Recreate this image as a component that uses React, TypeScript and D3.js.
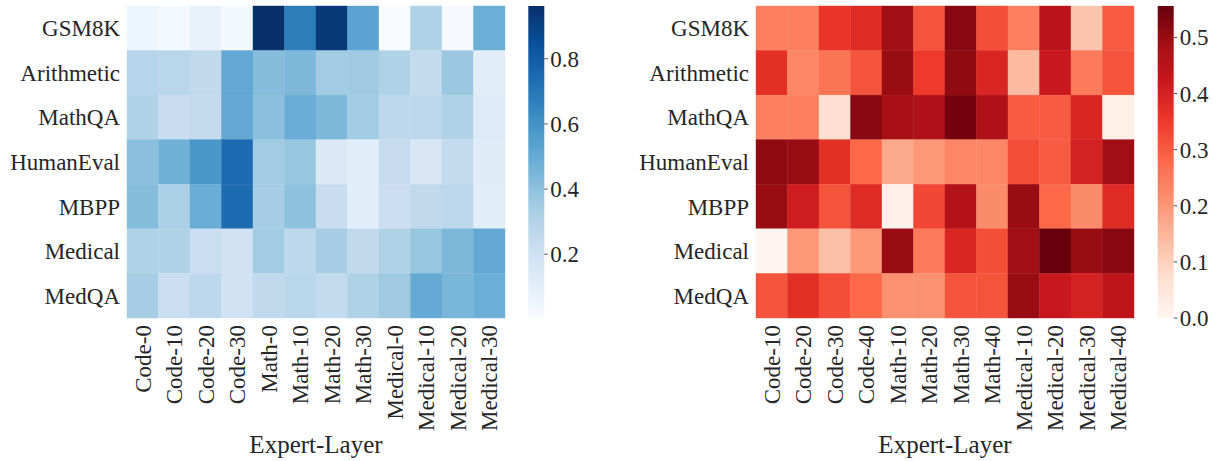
import * as d3 from "d3";

const rows = ["GSM8K", "Arithmetic", "MathQA", "HumanEval", "MBPP", "Medical", "MedQA"];
const leftCols = ["Code-0", "Code-10", "Code-20", "Code-30", "Math-0", "Math-10", "Math-20", "Math-30", "Medical-0", "Medical-10", "Medical-20", "Medical-30"];
const rightCols = ["Code-10", "Code-20", "Code-30", "Code-40", "Math-10", "Math-20", "Math-30", "Math-40", "Medical-10", "Medical-20", "Medical-30", "Medical-40"];

const leftValues = [
  [0.05, 0.02, 0.07, 0.03, 0.962, 0.68, 0.93, 0.53, 0.004, 0.31, 0.01, 0.48],
  [0.29, 0.28, 0.26, 0.51, 0.42, 0.44, 0.35, 0.36, 0.31, 0.25, 0.37, 0.11],
  [0.31, 0.23, 0.25, 0.51, 0.41, 0.49, 0.44, 0.35, 0.27, 0.27, 0.31, 0.13],
  [0.41, 0.47, 0.58, 0.74, 0.35, 0.38, 0.14, 0.11, 0.24, 0.15, 0.25, 0.12],
  [0.42, 0.32, 0.49, 0.74, 0.34, 0.40, 0.23, 0.11, 0.22, 0.26, 0.27, 0.11],
  [0.31, 0.31, 0.22, 0.20, 0.35, 0.27, 0.34, 0.26, 0.31, 0.38, 0.44, 0.51],
  [0.34, 0.22, 0.27, 0.19, 0.26, 0.28, 0.25, 0.31, 0.36, 0.50, 0.45, 0.48],
];

const rightValues = [
  [0.24, 0.24, 0.36, 0.38, 0.49, 0.31, 0.52, 0.32, 0.24, 0.45, 0.12, 0.30],
  [0.37, 0.23, 0.26, 0.31, 0.50, 0.35, 0.51, 0.39, 0.14, 0.42, 0.25, 0.31],
  [0.24, 0.24, 0.07, 0.52, 0.48, 0.47, 0.54, 0.47, 0.30, 0.30, 0.39, 0.02],
  [0.51, 0.50, 0.37, 0.28, 0.17, 0.20, 0.23, 0.23, 0.32, 0.30, 0.40, 0.49],
  [0.50, 0.41, 0.31, 0.38, 0.01, 0.33, 0.46, 0.22, 0.50, 0.28, 0.22, 0.38],
  [0.0, 0.20, 0.13, 0.20, 0.50, 0.25, 0.39, 0.32, 0.49, 0.556, 0.50, 0.52],
  [0.31, 0.37, 0.32, 0.28, 0.21, 0.21, 0.31, 0.31, 0.50, 0.42, 0.40, 0.44],
];

const leftTicks = [0.2, 0.4, 0.6, 0.8];
const rightTicks = [0, 0.1, 0.2, 0.3, 0.4, 0.5];

const blues = ["#f7fbff", "#deebf7", "#c6dbef", "#9ecae1", "#6baed6", "#4292c6", "#2171b5", "#08519c", "#08306b"];
const reds = ["#fff5f0", "#fee0d2", "#fcbba1", "#fc9272", "#fb6a4a", "#ef3b2c", "#cb181d", "#a50f15", "#67000d"];

const FONT = "'Liberation Serif', 'Times New Roman', serif";
const TEXT = "#262626";

type Props = {
  id: string;
  x0: number;
  x1: number;
  cbX: number;
  cols: string[];
  values: number[][];
  palette: string[];
  ticks: number[];
};

const Heatmap = ({ id, x0, x1, cbX, cols, values, palette, ticks }: Props) => {
  const y0 = 6, y1 = 318, cbW = 16;
  const x = d3.scaleBand<string>().domain(cols).range([x0, x1]);
  const y = d3.scaleBand<string>().domain(rows).range([y0, y1]);
  const [vmin, vmax] = d3.extent(values.flat()) as [number, number];
  const cmap = d3.scaleLinear<string>()
    .domain(palette.map((_, i) => vmin + (vmax - vmin) * i / (palette.length - 1)))
    .range(palette)
    .interpolate(d3.interpolateRgb);
  const cy = d3.scaleLinear().domain([vmin, vmax]).range([y1, y0]);
  const stops = d3.range(0, 1.0001, 0.02);

  return (
    <g>
      <defs>
        <linearGradient id={id} x1="0" y1="1" x2="0" y2="0">
          {stops.map(s => (
            <stop key={s} offset={s} stopColor={cmap(vmin + s * (vmax - vmin))} />
          ))}
        </linearGradient>
      </defs>
      {values.map((r, i) =>
        r.map((v, j) => (
          <rect
            key={`${i}-${j}`}
            x={x(cols[j])!}
            y={y(rows[i])!}
            width={x.bandwidth()}
            height={y.bandwidth()}
            fill={cmap(v)}
            stroke={cmap(v)}
            strokeWidth={0.4}
          />
        ))
      )}
      {rows.map(r => (
        <text
          key={r}
          x={x0 - 7}
          y={y(r)! + y.bandwidth() / 2}
          dy="0.35em"
          textAnchor="end"
          fontSize={23}
          fontFamily={FONT}
          fill={TEXT}
        >
          {r}
        </text>
      ))}
      {cols.map(c => (
        <text
          key={c}
          transform={`translate(${x(c)! + x.bandwidth() / 2},${y1 + 7}) rotate(-90)`}
          dy="0.35em"
          textAnchor="end"
          fontSize={23}
          fontFamily={FONT}
          fill={TEXT}
        >
          {c}
        </text>
      ))}
      <text
        x={(x0 + x1) / 2}
        y={453}
        textAnchor="middle"
        fontSize={25}
        fontFamily={FONT}
        fill={TEXT}
      >
        Expert-Layer
      </text>
      <rect x={cbX} y={y0} width={cbW} height={y1 - y0} fill={`url(#${id})`} />
      {ticks.map(t => (
        <g key={t} transform={`translate(${cbX + cbW},${cy(t)})`}>
          <line x1={0} x2={3.5} stroke={TEXT} strokeWidth={0.8} />
          <text x={6} dy="0.35em" fontSize={23} fontFamily={FONT} fill={TEXT}>
            {t.toFixed(1)}
          </text>
        </g>
      ))}
    </g>
  );
};

const App = () => (
  <svg
    width={1217}
    height={461}
    style={{ position: "absolute", left: 0, top: 0, background: "#fff" }}
  >
    <Heatmap id="cbBlues" x0={127} x1={505} cbX={528.3} cols={leftCols} values={leftValues} palette={blues} ticks={leftTicks} />
    <Heatmap id="cbReds" x0={756} x1={1134} cbX={1157.7} cols={rightCols} values={rightValues} palette={reds} ticks={rightTicks} />
  </svg>
);

export default App;
